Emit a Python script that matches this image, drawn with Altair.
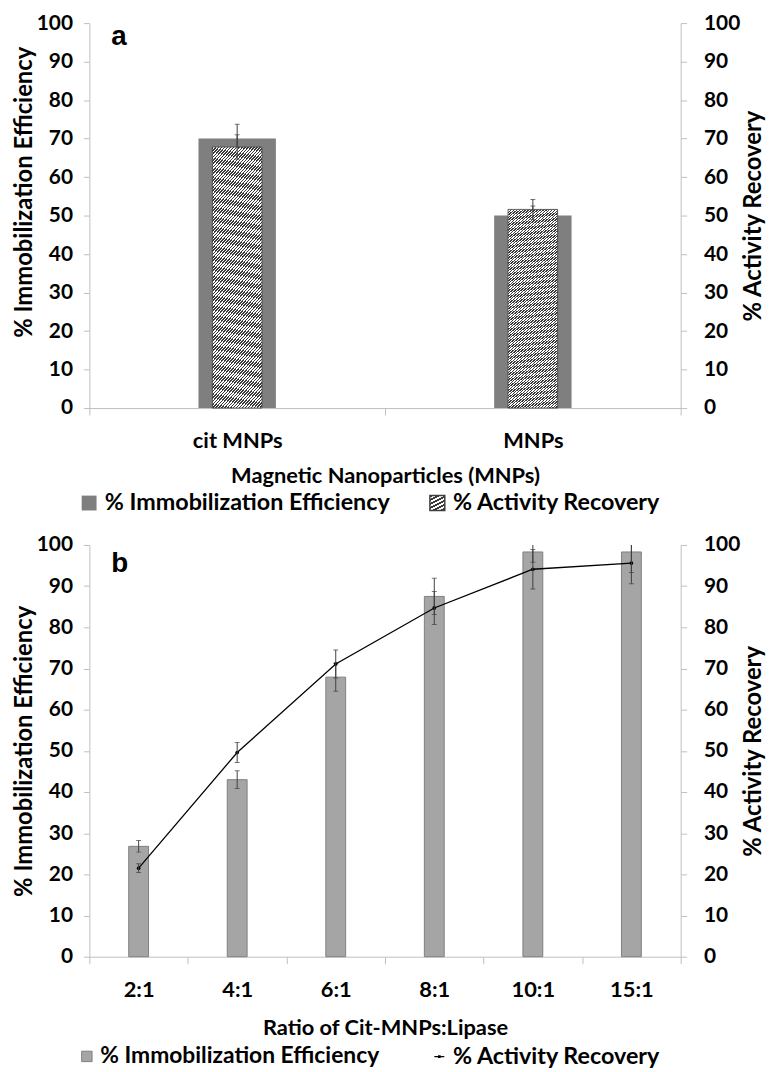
import altair as alt
import pandas as pd

# ---------------- data ----------------
categories_a = ["cit MNPs", "MNPs"]
immob_a = [70.0, 50.0]
immob_a_err = [3.7, 2.5]
activity_a = [67.8, 51.6]
activity_a_err = [3.2, 2.6]

ratios_b = ["2:1", "4:1", "6:1", "8:1", "10:1", "15:1"]
immob_b = [26.8, 43.0, 67.9, 87.5, 98.3, 98.3]
immob_b_err = [1.4, 2.15, 3.4, 4.4, 2.5, 5.0]
activity_b = [21.5, 49.6, 71.1, 84.7, 94.1, 95.6]
activity_b_err = [1.05, 2.45, 3.4, 4.0, 4.8, 5.0]

LEFT = "% Immobilization Efficiency"
RIGHT = "% Activity Recovery"
y_ticks = [0, 10, 20, 30, 40, 50, 60, 70, 80, 90, 100]

# ---------------- style ----------------
FONT = "Lato"
AX = "#bfbfbf"
ERR = "#404040"


def hatch(w, h, period=2.1, dark="#3a3a3a", light="#ffffff", frac=0.5):
    k = (w + h) / (w * w + h * h)
    n = int(round((w + h) / (period * 2 ** 0.5)))
    stops = []
    for i in range(n):
        a = i / n
        b = (i + frac) / n
        c = (i + 1) / n
        stops += [
            {"offset": a, "color": dark},
            {"offset": b, "color": dark},
            {"offset": b, "color": light},
            {"offset": c, "color": light},
        ]
    return {"gradient": "linear", "x1": 0, "y1": 0, "x2": w * k, "y2": h * k, "stops": stops}


HATCH = hatch(50, 232)

y_scale = alt.Scale(domain=[0, 100], nice=False, zero=True)


def y_axis(title, orient, title_y=None):
    right = orient == "right"
    extra = {} if title_y is None else {"titleY": title_y}
    return alt.Axis(title=title, orient=orient, values=y_ticks, grid=False,
                    domainColor=AX, tickColor=AX, tickSize=6,
                    labelFont=FONT, labelFontWeight="bold", labelFontSize=21,
                    labelColor="#000", labelPadding=17 if right else 11,
                    titleFont=FONT, titleFontWeight="bold", titleFontSize=24,
                    titleColor="#000", titlePadding=2 if right else 0, titleAngle=270,
                    titleBaseline="top" if right else "bottom", **extra)


def x_axis(title, tpad):
    return alt.Axis(title=title, tickBand="extent", labelAngle=0, grid=False,
                    domainColor=AX, tickColor=AX, tickSize=7,
                    labelFont=FONT, labelFontWeight="bold", labelFontSize=22,
                    labelColor="#000", labelPadding=16,
                    titleFont=FONT, titleFontWeight="bold", titleFontSize=22,
                    titleColor="#000", titlePadding=tpad)


def leg(x, y, size, offset=4, fs=23.5, **kw):
    return alt.Legend(title=None, orient="none", legendX=x, legendY=y,
                      direction="horizontal", labelFont=FONT, labelFontWeight="bold",
                      labelFontSize=fs, labelColor="#000", symbolSize=size,
                      padding=0, labelOffset=offset, labelLimit=400, **kw)


def errbars(base, val, err, x):
    calc = base.transform_calculate(lo=f"datum.{val} - datum.{err}",
                                    hi=f"datum.{val} + datum.{err}")
    rule = calc.mark_rule(color=ERR, strokeWidth=1, clip=True).encode(
        x=x, y=alt.Y("lo:Q", scale=y_scale, axis=None), y2="hi:Q")
    caps = calc.transform_fold(["lo", "hi"], as_=["k", "v"]).mark_tick(
        color=ERR, size=5, thickness=1, clip=True).encode(
        x=x, y=alt.Y("v:Q", scale=y_scale, axis=None))
    return [rule, caps]


def panel_label(t, yv):
    return alt.Chart(pd.DataFrame({"t": [t]})).mark_text(
        font="Liberation Sans", fontWeight="bold", fontSize=28, align="left",
        baseline="alphabetic", color="#000").encode(
        x=alt.value(22), y=alt.value(yv), text="t:N")


# ---------------- panel a ----------------
df_a = pd.DataFrame({"cat": categories_a, "immob": immob_a, "immob_err": immob_a_err,
                     "act": activity_a, "act_err": activity_a_err,
                     "sa1": LEFT, "sa2": RIGHT})
base_a = alt.Chart(df_a)
xa = alt.X("cat:N", sort=categories_a, scale=alt.Scale(paddingInner=0, paddingOuter=0),
           axis=x_axis("Magnetic Nanoparticles (MNPs)", 14))

dark_a = base_a.mark_bar(size=78).encode(
    x=xa, y=alt.Y("immob:Q", scale=y_scale, axis=y_axis(LEFT, "left", title_y=170)),
    fill=alt.Fill("sa1:N", scale=alt.Scale(domain=[LEFT], range=["#7f7f7f"]),
                  legend=leg(-12, 472, 225)))
hatch_a = base_a.mark_bar(size=50, fill=HATCH, strokeWidth=0.8).encode(
    x=xa, y=alt.Y("act:Q", scale=y_scale, axis=y_axis(RIGHT, "right")),
    stroke=alt.Stroke("sa2:N", scale=alt.Scale(domain=[RIGHT], range=["#404040"]),
                      legend=leg(339, 472, 225, symbolFillColor="#9c9c9c")))

panel_a = alt.layer(
    dark_a, *errbars(base_a, "immob", "immob_err", xa),
    hatch_a, *errbars(base_a, "act", "act_err", xa),
    panel_label("a", 22)
).resolve_axis(y="independent").properties(width=596, height=388)

# ---------------- panel b ----------------
df_b = pd.DataFrame({"ratio": ratios_b, "immob": immob_b, "immob_err": immob_b_err,
                     "act": activity_b, "act_err": activity_b_err,
                     "sb1": LEFT, "sb2": RIGHT})
base_b = alt.Chart(df_b)
xb = alt.X("ratio:N", sort=ratios_b, scale=alt.Scale(paddingInner=0, paddingOuter=0),
           axis=x_axis("Ratio of Cit-MNPs:Lipase", 17))

bars_b = base_b.mark_bar(size=20, stroke="#7f7f7f", strokeWidth=1).encode(
    x=xb, y=alt.Y("immob:Q", scale=y_scale, axis=y_axis(LEFT, "left")),
    fill=alt.Fill("sb1:N", scale=alt.Scale(domain=[LEFT], range=["#a5a5a5"]),
                  legend=leg(-14, 504, 110, offset=2, fs=23, symbolStrokeColor="#7f7f7f",
                             symbolStrokeWidth=1)))
line_b = base_b.mark_line(strokeWidth=1.3).encode(
    x=xb, y=alt.Y("act:Q", scale=y_scale, axis=y_axis(RIGHT, "right")),
    stroke=alt.Stroke("sb2:N", scale=alt.Scale(domain=[RIGHT], range=["#000000"]),
                      legend=leg(341, 504, 100, offset=2, fs=23.5,
                                 symbolType="M-1,0H1M-0.15,-0.15H0.15V0.15H-0.15Z",
                                 symbolStrokeWidth=1.2)))
pts_b = base_b.mark_circle(size=14, color="#000", opacity=1).encode(
    x=xb, y=alt.Y("act:Q", scale=y_scale, axis=None))

panel_b = alt.layer(
    bars_b, *errbars(base_b, "immob", "immob_err", xb),
    line_b, pts_b, *errbars(base_b, "act", "act_err", xb),
    panel_label("b", 27)
).resolve_axis(y="independent").properties(width=596, height=415)

chart = alt.vconcat(panel_a, panel_b, spacing=19).resolve_scale(
    fill="independent", stroke="independent"
).properties(padding={"left": 4, "top": 0, "right": 0, "bottom": 0}
).configure_view(stroke=None)

chart.save("out.html", embed_options={"renderer": "svg", "actions": False})
